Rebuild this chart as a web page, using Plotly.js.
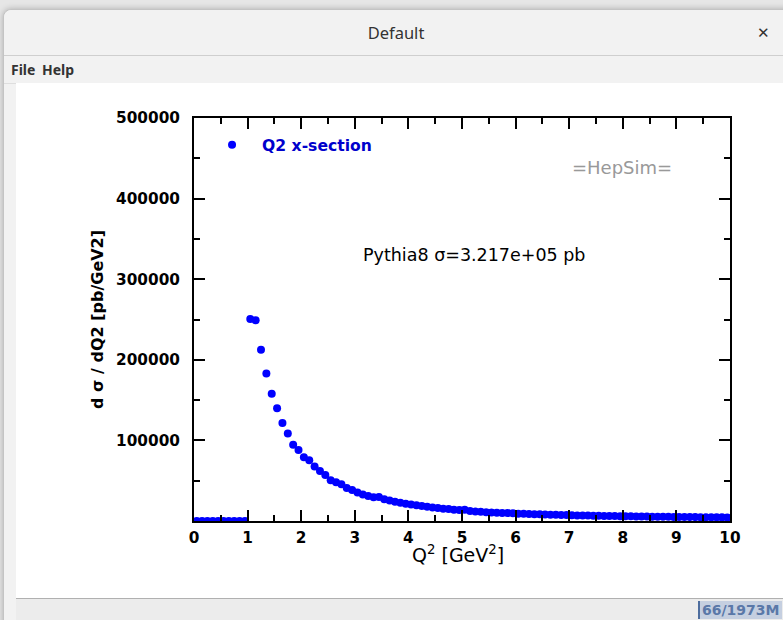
<!DOCTYPE html>
<html>
<head>
<meta charset="utf-8">
<script src="https://cdn.plot.ly/plotly-3.0.1.min.js"></script>
<style>
  html, body { margin:0; padding:0; width:783px; height:620px; overflow:hidden; background:#e6e6e6; font-family:"DejaVu Sans", sans-serif; }
  #win { position:absolute; left:3px; top:9px; width:790px; height:620px; background:#f2f2f2; border:1px solid #c4c4c4; border-radius:8px 8px 0 0; box-shadow:0 0 6px rgba(0,0,0,0.25); }
  #titlebar { position:absolute; left:0; top:0; width:100%; height:45px; border-bottom:1px solid #cfcfcf; background:#f2f2f2; border-radius:8px 8px 0 0; }
  #titletxt { position:absolute; left:-3px; width:790px; top:11px; text-align:center; font-family:"Noto Sans","DejaVu Sans",sans-serif; font-size:16.5px; color:#333; }
  #close { position:absolute; left:753px; top:12px; font-family:"Noto Sans","DejaVu Sans",sans-serif; font-size:15px; color:#333; }
  #menubar { position:absolute; left:0; top:46px; width:100%; height:27px; background:#f2f2f2; border-bottom:1px solid #dedede; }
  #menubar span { position:absolute; top:4px; font-family:"Noto Sans","DejaVu Sans",sans-serif; font-size:14px; font-weight:bold; color:#333; }
  #chart { position:absolute; left:16px; top:83px; width:767px; height:515px; background:#fff; }
  #status { position:absolute; left:16px; top:598px; width:767px; height:22px; background:#ececec; border-top:1px solid #b0b0b0; }
  #mem { position:absolute; left:682px; top:2px; height:18px; padding:0 2px 0 2px; background:#c5cfe0; border-left:2px solid #4d6d9e; font-family:"DejaVu Sans",sans-serif; font-weight:bold; font-size:14px; color:#5a78a8; line-height:18px; }
</style>
</head>
<body>
<div id="win">
  <div id="titlebar"><div id="titletxt">Default</div><div id="close">✕</div></div>
  <div id="menubar"><span style="left:7px">File</span><span style="left:38px">Help</span></div>
</div>
<div id="chart"></div>
<div id="status"><div id="mem">66/1973M</div></div>
<script>
// Q^2 bin centres [GeV^2] and d sigma / dQ2 [pb/GeV2]
const q2 = [0.05,0.15,0.25,0.35,0.45,0.55,0.65,0.75,0.85,0.95,
  1.05,1.15,1.25,1.35,1.45,1.55,1.65,1.75,1.85,1.95,
  2.05,2.15,2.25,2.35,2.45,2.55,2.65,2.75,2.85,2.95,
  3.05,3.15,3.25,3.35,3.45,3.55,3.65,3.75,3.85,3.95,
  4.05,4.15,4.25,4.35,4.45,4.55,4.65,4.75,4.85,4.95,
  5.05,5.15,5.25,5.35,5.45,5.55,5.65,5.75,5.85,5.95,
  6.05,6.15,6.25,6.35,6.45,6.55,6.65,6.75,6.85,6.95,
  7.05,7.15,7.25,7.35,7.45,7.55,7.65,7.75,7.85,7.95,
  8.05,8.15,8.25,8.35,8.45,8.55,8.65,8.75,8.85,8.95,
  9.05,9.15,9.25,9.35,9.45,9.55,9.65,9.75,9.85,9.95];
const xsec = [0,0,0,0,0,0,0,0,0,0,
  250500,249000,212500,183000,158000,140000,121500,108500,94500,88000,
  79000,75500,67500,62000,57000,50500,48000,45500,41000,38500,
  35500,33000,31000,29500,29800,27000,25500,24000,22500,21500,
  20500,19500,18500,17800,16800,16000,15200,14800,14000,13800,
  13900,12500,11800,11500,11000,10700,10300,10000,9800,9500,
  9000,8900,8600,8400,8300,8000,7900,7600,7400,7300,
  7200,6900,6800,6700,6500,6400,6300,6200,6100,6000,
  5900,5850,5700,5600,5500,5400,5350,5300,5200,5100,
  5050,5000,4900,4850,4800,4700,4650,4600,4500,4450];
const xTicks = [0,1,2,3,4,5,6,7,8,9,10];
const yTicks = [100000,200000,300000,400000,500000];
const seriesName = "Q2 x-section";
const labelHepSim = "=HepSim=";
const labelXsec = "Pythia8 σ=3.217e+05 pb";
const xTitle = "Q<sup>2</sup> [GeV<sup>2</sup>]";
const yTitle = "d σ / dQ2 [pb/GeV2]";

const trace = {
  x: q2, y: xsec, type: 'scatter', mode: 'markers', name: seriesName,
  marker: { color: '#0000ff', size: 8, symbol: 'circle' },
  cliponaxis: true, showlegend: true
};

const axisCommon = {
  showline: true, linecolor: '#000', linewidth: 2, mirror: 'allticks',
  ticks: 'inside', tickcolor: '#000', tickwidth: 2, ticklen: 11,
  showgrid: false, zeroline: false,
  tickfont: { family: 'DejaVu Sans', size: 15.3, color: '#000', weight: 'bold' }
};

const layout = {
  width: 767, height: 515,
  margin: { l: 178, r: 53, t: 35, b: 77 },
  paper_bgcolor: '#fff', plot_bgcolor: '#fff',
  showlegend: true,
  legend: { x: 0.015, y: 0.975, xanchor: 'left', yanchor: 'top', bgcolor: 'rgba(0,0,0,0)', itemwidth: 50,
    font: { family: 'DejaVu Sans', size: 15.6, color: '#0000cc', weight: 'bold' } },
  xaxis: Object.assign({}, axisCommon, {
    range: [0, 10], tickmode: 'array', tickvals: xTicks, ticktext: xTicks.map(String),
    ticklabelstandoff: 2,
    minor: { ticks: 'inside', ticklen: 6, tickwidth: 2, tickcolor: '#000', dtick: 0.5 }
  }),
  yaxis: Object.assign({}, axisCommon, {
    range: [0, 500000], tickmode: 'array', tickvals: yTicks, ticktext: yTicks.map(String),
    minor: { ticks: 'inside', ticklen: 6, tickwidth: 2, tickcolor: '#000', dtick: 50000 },
    ticklabelstandoff: 9,
    title: { text: yTitle, font: { family: 'DejaVu Sans', size: 16, color: '#000', weight: 'bold' }, standoff: 8 }
  }),
  annotations: [
    { xref: 'paper', yref: 'paper', x: 0.4925, y: -0.081, xanchor: 'center', yanchor: 'middle', text: xTitle, showarrow: false,
      font: { family: 'DejaVu Sans', size: 19, color: '#000' } },
    { xref: 'paper', yref: 'paper', x: 0.7985, y: 0.876, xanchor: 'center', yanchor: 'middle', text: labelHepSim, showarrow: false,
      font: { family: 'DejaVu Sans', size: 18, color: '#999' } },
    { xref: 'paper', yref: 'paper', x: 0.522, y: 0.660, xanchor: 'center', yanchor: 'middle', text: labelXsec, showarrow: false,
      font: { family: 'DejaVu Sans', size: 17.5, color: '#000' } }
  ]
};

Plotly.newPlot('chart', [trace], layout, { displayModeBar: false, staticPlot: true });
</script>
</body>
</html>
